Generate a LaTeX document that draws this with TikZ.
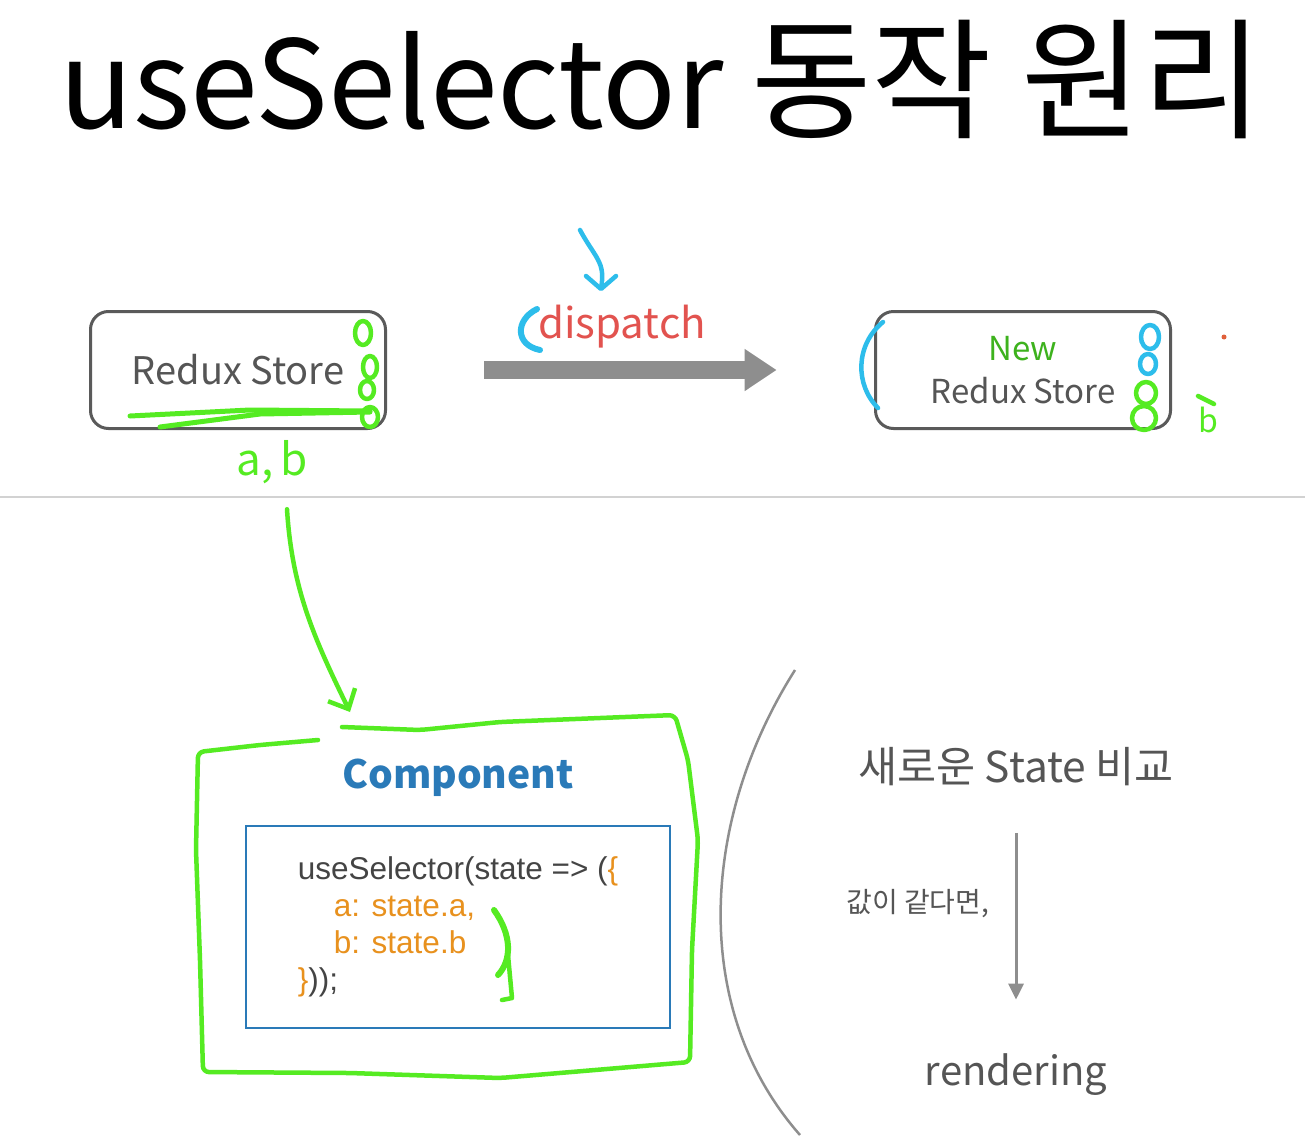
\documentclass[tikz,border=0pt]{standalone}
\usepackage{fontspec}
\setmainfont{Noto Sans CJK KR}
\newfontfamily\codefont{Liberation Sans}
\usetikzlibrary{arrows.meta,positioning,calc}

\definecolor{boxgray}{HTML}{5A5A5A}
\definecolor{txtgray}{HTML}{555555}
\definecolor{arrowgray}{HTML}{8E8E8E}
\definecolor{rulegray}{HTML}{D2D2D2}
\definecolor{penred}{HTML}{E2534F}
\definecolor{pengreen}{HTML}{55EB22}
\definecolor{penblue}{HTML}{2DBDEB}
\definecolor{newgreen}{HTML}{3DB21D}
\definecolor{compblue}{HTML}{2A7AB8}
\definecolor{codeorange}{HTML}{E8911E}
\definecolor{codegray}{HTML}{444444}
\definecolor{dotorange}{HTML}{E0603A}

\tikzset{
  store/.style={draw=boxgray, line width=3pt, rounded corners=18pt,
    minimum width=295pt, minimum height=117pt, text=txtgray,
    font=\fontsize{38}{43}\selectfont, align=center},
  fatarrow/.style={draw=arrowgray, line width=18pt,
    -{Triangle[length=32pt,width=40pt]}},
  pen/.style={draw=pengreen, line width=4.5pt, line cap=round, line join=round},
  bluepen/.style={pen, draw=penblue},
  codebox/.style={draw=compblue, line width=1.8pt, minimum width=424pt,
    minimum height=202pt, align=left, text=codegray,
    font=\codefont\fontsize{31.5}{37}\selectfont},
  slidetext/.style={text=txtgray, font=\fontsize{42.5}{46}\selectfont},
  thinarrow/.style={draw=arrowgray, line width=3pt,
    -{Triangle[length=16pt,width=15pt]}},
}

\begin{document}
\begin{tikzpicture}[x=1pt,y=-1pt]
\useasboundingbox (0,0) rectangle (1305,1135);
\fill[white] (0,0) rectangle (1305,1135);
\draw[rulegray, line width=1.5pt] (0,497) -- (1305,497);

% title
\node[anchor=base, font=\fontsize{122}{126}\selectfont] (title) at (661,128)
  {useSelector {\fontsize{131}{135}\selectfont 동작 원리}};

% stores and dispatch
\node[store] (store) at (238,370) {Redux Store};
\node[store, font=\fontsize{33}{43}\selectfont] (newstore) at (1023,370) {{\color{newgreen}New}\\Redux Store};
\draw[fatarrow] ($(store.east)!0.2!(newstore.west)$) -- ($(store.east)!0.8!(newstore.west)$);
\node[anchor=base, text=penred, font=\fontsize{42}{46}\selectfont] (dispatch) at (622,338) {dispatch};

% pen notes, top
\draw[bluepen] (580,230) .. controls (595,258) and (606,262) .. (601,288);
\draw[bluepen] (586,276) -- (601,289) -- (616,276);
\draw[bluepen, line width=6pt] (537,309) .. controls (515,320) and (515,345) .. (540,350);
\draw[bluepen] (883,322) .. controls (855,345) and (855,385) .. (878,408);
\draw[bluepen] (1150,337) ellipse (9 and 12);
\draw[bluepen] (1148,364) ellipse (8 and 10);
\draw[pen] (1146,393) ellipse (10 and 11);
\draw[pen] (1144,418) ellipse (12 and 12);
\node[text=pengreen, font=\fontsize{32}{32}\selectfont] (bnote) at (1208,420) {b};
\draw[pen] (1198,396) -- (1214,404);
\fill[dotorange] (1224,337) circle (2.5);

\draw[pen, line width=5pt] (130,416) -- (250,410) -- (370,411);
\draw[pen, line width=5pt] (160,427) -- (260,414) -- (370,412);
\draw[pen] (363,333) ellipse (8 and 12);
\draw[pen] (370,367) ellipse (7 and 11);
\draw[pen] (367,390) ellipse (7 and 9);
\draw[pen] (370,417) ellipse (8 and 10);
\node[text=pengreen, font=\fontsize{44}{44}\selectfont] (ab) at (272,462) {a,\,b};

% component
\coordinate (comptop) at (350,712);
\draw[pen, -{Straight Barb[length=16pt,width=30pt]}]
  ([xshift=15pt,yshift=-22pt]ab.south) .. controls (292,590) and (315,640) .. (comptop);
\draw[pen, rounded corners=6pt] (318,740) -- (260,745) -- (198,752) -- (196,850)
  -- (200,960) -- (203,1072) -- (350,1073) -- (500,1078) -- (690,1062)
  -- (692,950) -- (698,840) -- (688,760) -- (675,715) -- (600,718)
  -- (500,722) -- (420,730) -- (342,727);
\node[text=compblue, font=\bfseries\fontsize{39}{44}\selectfont] (comp) at (458,778) {Component};
\node[codebox] (code) at (458,927) {useSelector(state => ({\color{codeorange}\{}\\
  \hspace*{36pt}{\color{codeorange}a: state.a,}\\
  \hspace*{36pt}{\color{codeorange}b: state.b}\\
  {\color{codeorange}\}}));};
\draw[pen, line width=6pt] (494,910) .. controls (512,935) and (512,960) .. (498,975);
\draw[pen] (508,955) -- (512,998) -- (502,1000);

% compare
\draw[arrowgray, line width=2.5pt] (795,670) .. controls (700,820) and (690,1010) .. (800,1135);
\node[slidetext, anchor=base] (cmp) at (1016,782) {새로운 State 비교};
\node[slidetext, anchor=base, font=\fontsize{40}{44}\selectfont] (rend) at (1016,1085) {rendering};
\draw[thinarrow, shorten <=44pt, shorten >=50pt] (cmp.south) -- (rend.north)
  node[pos=0.44, left=22pt, text=txtgray, font=\fontsize{28}{30}\selectfont] {값이 같다면,};
\end{tikzpicture}
\end{document}
